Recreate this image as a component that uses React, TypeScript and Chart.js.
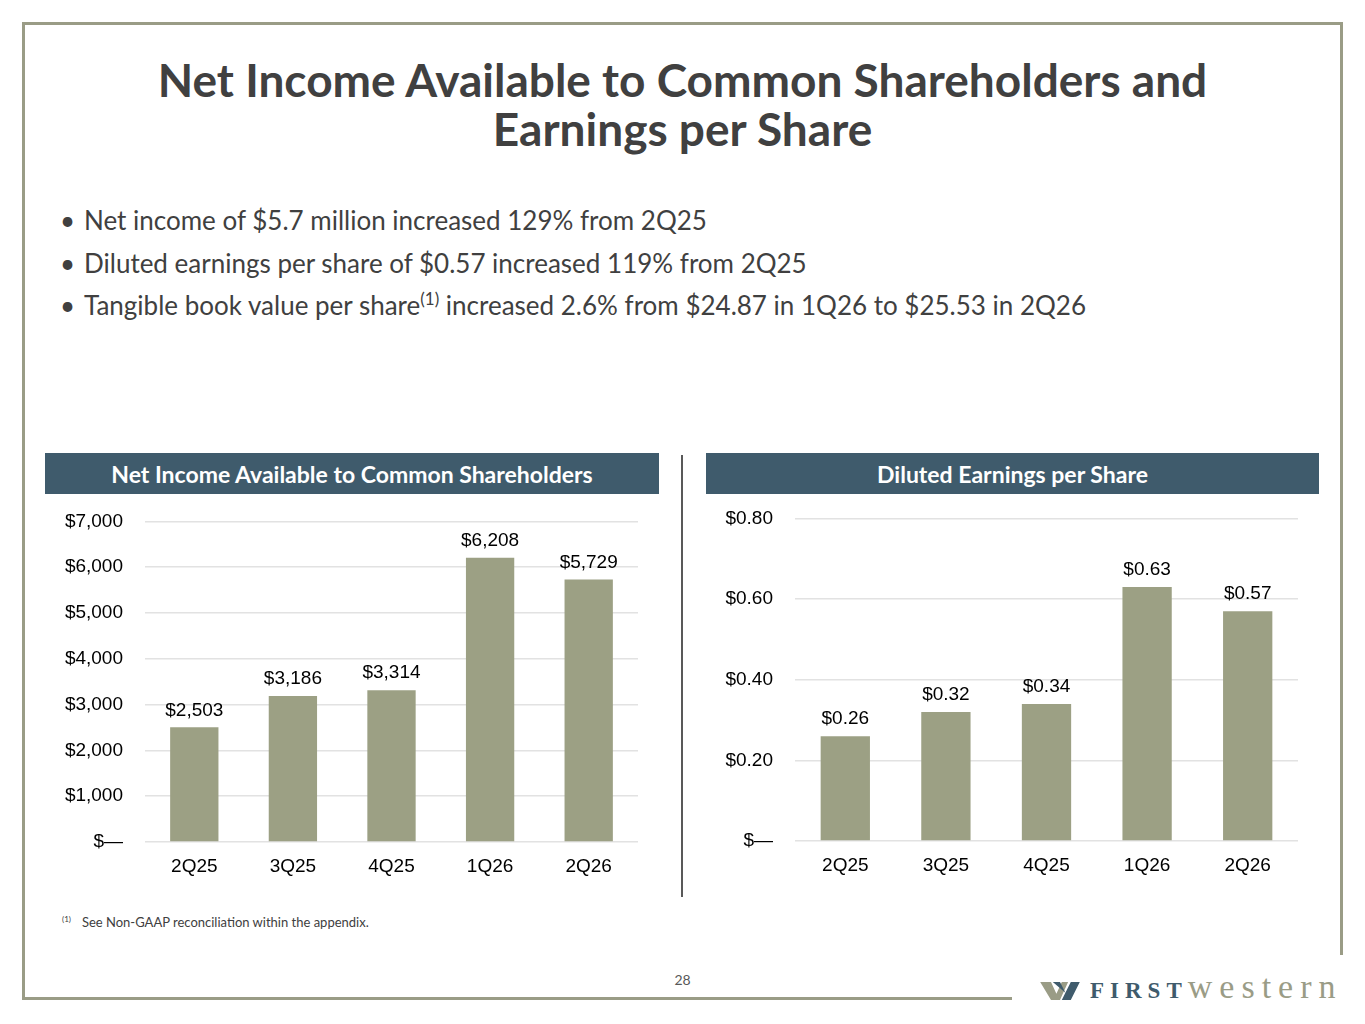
import { useEffect, useRef } from 'react'
import { Chart, registerables } from 'chart.js'
import type { Plugin } from 'chart.js'

Chart.register(...registerables)

const QUARTERS = ['2Q25', '3Q25', '4Q25', '1Q26', '2Q26']
const NET_INCOME = [2503, 3186, 3314, 6208, 5729]
const DILUTED_EPS = [0.26, 0.32, 0.34, 0.63, 0.57]
const INCOME_TICKS = ['$—', '$1,000', '$2,000', '$3,000', '$4,000', '$5,000', '$6,000', '$7,000']
const EPS_TICKS = ['$—', '$0.20', '$0.40', '$0.60', '$0.80']

const BAR_COLOR = '#9ca084'
const HEADER_COLOR = '#3f5b6c'
const TEXT_COLOR = '#404040'
const FRAME_COLOR = '#9a9c86'
const TICK_FONT = { family: '"Liberation Sans", Arial, sans-serif', size: 19 }

function valueLabels(format: (v: number) => string): Plugin<'bar'> {
  return {
    id: 'valueLabels',
    afterDatasetsDraw(chart) {
      const ctx = chart.ctx
      const meta = chart.getDatasetMeta(0)
      const values = chart.data.datasets[0].data as number[]
      ctx.save()
      ctx.font = `${TICK_FONT.size}px ${TICK_FONT.family}`
      ctx.fillStyle = '#000'
      ctx.textAlign = 'center'
      ctx.textBaseline = 'middle'
      meta.data.forEach((bar, i) => {
        ctx.fillText(format(values[i]), bar.x, bar.y - 17)
      })
      ctx.restore()
    },
  }
}

interface BarProps {
  values: number[]
  ticks: string[]
  step: number
  max: number
  axisWidth: number
  format: (v: number) => string
}

function BarPanel({ values, ticks, step, max, axisWidth, format }: BarProps) {
  const canvasRef = useRef<HTMLCanvasElement>(null)

  useEffect(() => {
    if (!canvasRef.current) return
    const chart = new Chart(canvasRef.current, {
      type: 'bar',
      data: {
        labels: QUARTERS,
        datasets: [
          {
            data: values,
            backgroundColor: BAR_COLOR,
            categoryPercentage: 1,
            barPercentage: 0.49,
          },
        ],
      },
      options: {
        animation: false,
        responsive: true,
        maintainAspectRatio: false,
        layout: { padding: { top: 9, right: 21, left: 0, bottom: 0 } },
        plugins: { legend: { display: false }, tooltip: { enabled: false } },
        scales: {
          x: {
            grid: { display: false },
            border: { display: false },
            ticks: { color: '#000', font: TICK_FONT, padding: 5 },
            afterFit: (s) => {
              s.height = 48
            },
          },
          y: {
            min: 0,
            max,
            grid: { color: '#e2e2e2', lineWidth: 1.5, drawTicks: false },
            border: { display: false },
            ticks: {
              stepSize: step,
              color: '#000',
              font: TICK_FONT,
              padding: 22,
              callback: (_v, i) => ticks[i],
            },
            afterFit: (s) => {
              s.width = axisWidth
            },
          },
        },
      },
      plugins: [valueLabels(format)],
    })
    return () => chart.destroy()
  }, [values, ticks, step, max, axisWidth, format])

  return <canvas ref={canvasRef} />
}

const header: React.CSSProperties = {
  position: 'absolute',
  top: 453,
  height: 41,
  background: HEADER_COLOR,
  color: '#fff',
  font: 'bold 23px Lato, sans-serif',
  display: 'flex',
  alignItems: 'center',
  justifyContent: 'center',
}

const bullet: React.CSSProperties = {
  position: 'absolute',
  left: 60,
  font: '26px Lato, sans-serif',
  color: TEXT_COLOR,
  whiteSpace: 'nowrap',
  lineHeight: '30px',
  height: 30,
}

const dot: React.CSSProperties = { display: 'inline-block', width: 24 }

export default function App() {
  return (
    <div
      style={{
        position: 'absolute',
        left: 0,
        top: 0,
        width: 1365,
        height: 1024,
        background: '#fff',
        overflow: 'hidden',
        fontFamily: 'Lato, sans-serif',
      }}
    >
      {/* frame */}
      <div style={{ position: 'absolute', left: 22, top: 22, width: 1321, height: 3, background: FRAME_COLOR }} />
      <div style={{ position: 'absolute', left: 22, top: 22, width: 3, height: 978, background: FRAME_COLOR }} />
      <div style={{ position: 'absolute', left: 1340, top: 22, width: 3, height: 933, background: FRAME_COLOR }} />
      <div style={{ position: 'absolute', left: 22, top: 997, width: 990, height: 3, background: FRAME_COLOR }} />

      <div
        style={{
          position: 'absolute',
          left: 0,
          width: 1365,
          top: 55,
          textAlign: 'center',
          font: 'bold 46px Lato, sans-serif',
          color: TEXT_COLOR,
          lineHeight: '49px',
        }}
      >
        Net Income Available to Common Shareholders and
        <br />
        Earnings per Share
      </div>

      <div style={{ ...bullet, top: 205 }}>
        <span style={dot}>•</span>Net income of $5.7 million increased 129% from 2Q25
      </div>
      <div style={{ ...bullet, top: 248 }}>
        <span style={dot}>•</span>Diluted earnings per share of $0.57 increased 119% from 2Q25
      </div>
      <div style={{ ...bullet, top: 290 }}>
        <span style={dot}>•</span>Tangible book value per share
        <span style={{ fontSize: 17, position: 'relative', top: -10 }}>(1)</span> increased 2.6% from $24.87 in 1Q26
        to $25.53 in 2Q26
      </div>

      <div style={{ ...header, left: 45, width: 614 }}>Net Income Available to Common Shareholders</div>
      <div style={{ ...header, left: 706, width: 613 }}>Diluted Earnings per Share</div>

      <div style={{ position: 'absolute', left: 681, top: 455, width: 1.5, height: 442, background: '#595959' }} />

      <div style={{ position: 'absolute', left: 45, top: 488, width: 614, height: 402 }}>
        <BarPanel
          values={NET_INCOME}
          ticks={INCOME_TICKS}
          step={1000}
          max={7000}
          axisWidth={100}
          format={(v) => '$' + v.toLocaleString('en-US')}
        />
      </div>
      <div style={{ position: 'absolute', left: 706, top: 485, width: 613, height: 404 }}>
        <BarPanel
          values={DILUTED_EPS}
          ticks={EPS_TICKS}
          step={0.2}
          max={0.8}
          axisWidth={89}
          format={(v) => '$' + v.toFixed(2)}
        />
      </div>

      <div style={{ position: 'absolute', left: 62, top: 914, font: '13px Lato, sans-serif', color: TEXT_COLOR }}>
        <span style={{ fontSize: 8, verticalAlign: 'top', marginRight: 11 }}>(1)</span>
        See Non-GAAP reconciliation within the appendix.
      </div>

      <div
        style={{
          position: 'absolute',
          left: 0,
          width: 1365,
          top: 971,
          textAlign: 'center',
          font: '14px Lato, sans-serif',
          color: '#595959',
        }}
      >
        28
      </div>

      {/* logo */}
      <svg style={{ position: 'absolute', left: 1038, top: 982 }} width="44" height="18" viewBox="0 0 44 20">
        <polygon points="0,0 12,0 18,13 24,0 31,0 22,20 12,20" fill={FRAME_COLOR} />
        <polygon points="14,0 22,0 28,12 34,0 44,0 34,20 24,20 28,12" fill={HEADER_COLOR} />
      </svg>
      <div
        style={{
          position: 'absolute',
          left: 1090,
          top: 967,
          whiteSpace: 'nowrap',
          fontFamily: '"Liberation Serif", "DejaVu Serif", serif',
          lineHeight: '40px',
        }}
      >
        <span style={{ fontSize: 23, fontWeight: 'bold', color: HEADER_COLOR, letterSpacing: 6 }}>FIRST</span>
        <span style={{ fontSize: 34, color: FRAME_COLOR, letterSpacing: 7 }}>western</span>
      </div>
    </div>
  )
}
